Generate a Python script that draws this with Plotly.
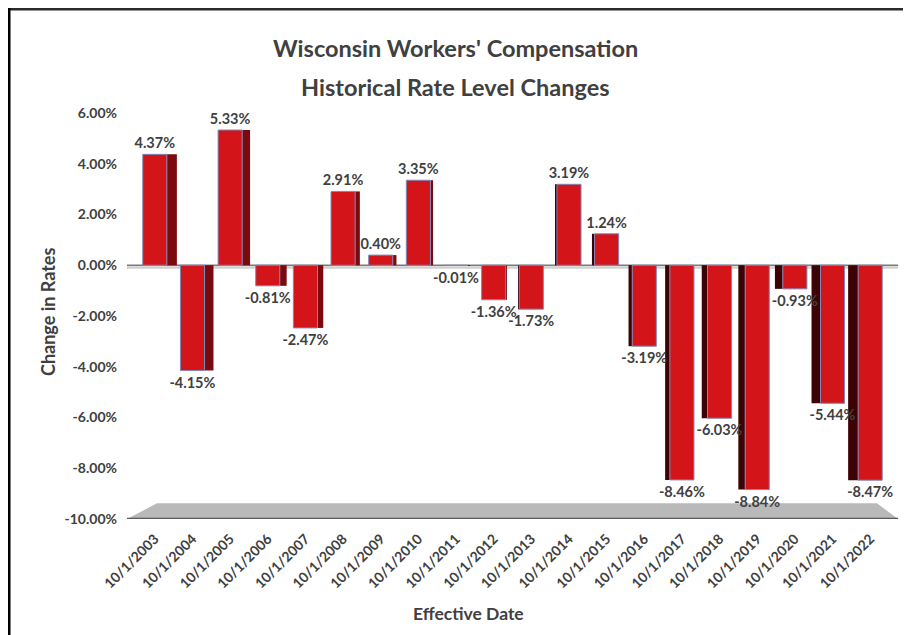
import plotly.graph_objects as go

# data
dates = ["10/1/2003", "10/1/2004", "10/1/2005", "10/1/2006", "10/1/2007",
         "10/1/2008", "10/1/2009", "10/1/2010", "10/1/2011", "10/1/2012",
         "10/1/2013", "10/1/2014", "10/1/2015", "10/1/2016", "10/1/2017",
         "10/1/2018", "10/1/2019", "10/1/2020", "10/1/2021", "10/1/2022"]
changes = [4.37, -4.15, 5.33, -0.81, -2.47, 2.91, 0.40, 3.35, -0.01, -1.36,
           -1.73, 3.19, 1.24, -3.19, -8.46, -6.03, -8.84, -0.93, -5.44, -8.47]
y_ticks = [6, 4, 2, 0, -2, -4, -6, -8, -10]
y_labels = ["6.00%", "4.00%", "2.00%", "0.00%", "-2.00%", "-4.00%",
            "-6.00%", "-8.00%", "-10.00%"]

title_lines = ["Wisconsin Workers' Compensation", "Historical Rate Level Changes"]
y_title = "Change in Rates"
x_title = "Effective Date"

# page geometry (pixels); the page body adds an 8px margin before the figure
PAGE_W, PAGE_H, OFF = 911, 635, 8
PL, PR, PT, PB = 136, 889, 113, 519          # plot area on the page
PW, PH = PR - PL, PB - PT
FONT = "Lato"
TXT = "#404040"


def px(x):
    return (x - PL) / PW


def py(y):
    return (PB - y) / PH


# fake 3D: side face of each bar, right side on the left half, left side on the right half
n = len(dates)
slot = PW / n
front_w = 0.64
side_w, side_off, side_col = [], [], []
for i in range(n):
    s = 10 * (9.5 - i) / 9.5
    w = abs(s) / slot
    side_w.append(w)
    if s >= 0:
        side_off.append(front_w / 2)
        side_col.append("#7a0a0e")
    else:
        side_off.append(-front_w / 2 - w)
        side_col.append("#3c0204")

side = go.Bar(x=dates, y=changes, width=side_w, offset=side_off,
              marker=dict(color=side_col, line=dict(width=0)),
              hoverinfo="skip", showlegend=False)

front = go.Bar(x=dates, y=changes, width=front_w,
               marker=dict(color="#d31418", line=dict(color="#7f88b8", width=1)),
               texttemplate="%{y:.2f}%", textposition="outside", constraintext="none",
               textfont=dict(family=FONT, size=14.5, color=TXT, weight="bold"),
               cliponaxis=False, showlegend=False)

fig = go.Figure(data=[side, front])

shapes = [
    # floor
    dict(type="path", xref="paper", yref="y", layer="below",
         path=f"M {px(127)},-10 L {px(157)},-9.38 L {px(877)},-9.38 L {px(898)},-10 Z",
         fillcolor="#b9b9b9", line=dict(width=0)),
    dict(type="line", xref="paper", yref="y", x0=px(127), x1=px(898), y0=-10, y1=-10,
         line=dict(color="#5a5a5a", width=2.5), layer="below"),
    # zero plane edge
    dict(type="line", xref="paper", yref="y", x0=px(127), x1=px(898), y0=-0.09, y1=-0.09,
         line=dict(color="#d0d0d0", width=2.5), layer="below"),
    dict(type="line", xref="paper", yref="y", x0=px(127), x1=px(898), y0=0, y1=0,
         line=dict(color="#7a7a7a", width=1.5), layer="below"),
    # frame
    dict(type="line", xref="paper", yref="paper", x0=px(8), x1=px(911), y0=py(9), y1=py(9),
         line=dict(color="#2a2a2a", width=3)),
    dict(type="line", xref="paper", yref="paper", x0=px(9), x1=px(9), y0=py(8), y1=py(635),
         line=dict(color="#000000", width=3)),
]


def label(text, x, y, size, angle=0):
    return dict(text=text, x=px(x), y=py(y), xref="paper", yref="paper",
                xanchor="center", yanchor="middle", textangle=angle, showarrow=False,
                font=dict(family=FONT, size=size, color=TXT, weight="bold"))


annotations = [
    label(title_lines[0], 455.5, 48, 23.5),
    label(title_lines[1], 455.5, 87, 23.5),
    label(y_title, 48, 312, 18, -90),
    label(x_title, 468, 613, 17.5),
]

fig.update_layout(
    width=PAGE_W - OFF, height=PAGE_H - OFF,
    margin=dict(l=PL - OFF, r=PAGE_W - PR, t=PT - OFF, b=PAGE_H - PB),
    paper_bgcolor="white", plot_bgcolor="white",
    barmode="overlay",
    shapes=shapes, annotations=annotations,
    font=dict(family=FONT, color=TXT),
    xaxis=dict(tickangle=-45, showgrid=False, zeroline=False, showline=False,
               ticklabelstandoff=8,
               tickfont=dict(family=FONT, size=14, color=TXT, weight="bold")),
    yaxis=dict(range=[-10, 6], tickvals=y_ticks, ticktext=y_labels,
               showgrid=False, zeroline=False, showline=False, ticklabelstandoff=18,
               tickfont=dict(family=FONT, size=14, color=TXT, weight="bold")),
)

fig.write_html("out.html")
